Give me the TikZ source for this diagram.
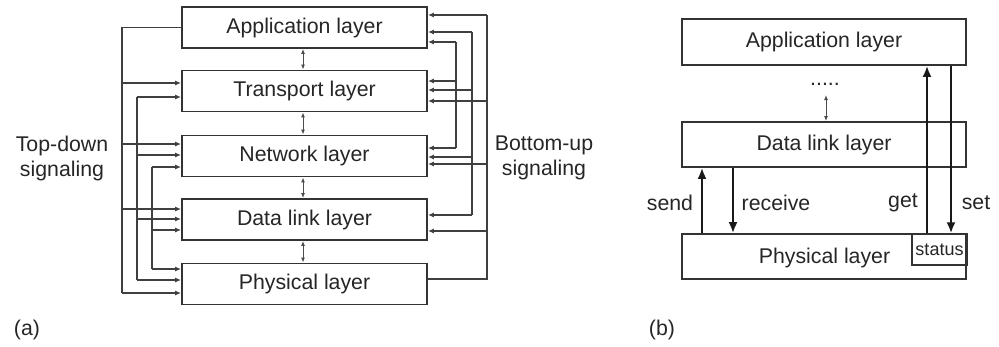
\documentclass[tikz,border=0pt]{standalone}
\usepackage{fontspec}
\setmainfont{Liberation Sans}
\usetikzlibrary{arrows.meta}
\begin{document}
\begin{tikzpicture}[x=1pt,y=-1pt,
  every node/.style={font=\fontsize{21.3}{25}\selectfont, text=black!85},
  box/.style={draw=black!80, line width=1.8pt, fill=white, inner sep=0pt},
  sig/.style={draw=black!75, line width=1.3pt},
  sigarr/.style={sig, -{Latex[length=6pt,width=5pt]}},
  dbl/.style={draw=black!70, line width=1pt, {Latex[length=5pt,width=4pt]}-{Latex[length=5pt,width=4pt]}},
  big/.style={draw=black!90, line width=2pt, -{Latex[length=11pt,width=9pt]}},
  lbl/.style={align=center, inner sep=0pt}
]
\useasboundingbox (0,0) rectangle (999,346);
% ---------- (a) ----------
\node[box, minimum width=245pt, minimum height=41pt] (app) at (304.5,27.5) {Application layer};
\node[box, minimum width=245pt, minimum height=41pt] (tr)  at (304.5,91) {Transport layer};
\node[box, minimum width=245pt, minimum height=41pt] (net) at (304.5,156) {Network layer};
\node[box, minimum width=245pt, minimum height=41pt] (dl)  at (304.5,219.5) {Data link layer};
\node[box, minimum width=245pt, minimum height=41pt] (ph)  at (304.5,284) {Physical layer};

\draw[dbl] (app.south -| 303,0) -- (tr.north -| 303,0);
\draw[dbl] (tr.south -| 303,0) -- (net.north -| 303,0);
\draw[dbl] (net.south -| 303,0) -- (dl.north -| 303,0);
\draw[dbl] (dl.south -| 303,0) -- (ph.north -| 303,0);

% top-down signaling (left)
\coordinate (l1t) at (122,27.5);
\coordinate (l1b) at (122,293);
\draw[sig] (app.west) -- (l1t) -- (l1b);
\draw[sigarr] (122,83) -- (tr.west |- 0,83);
\draw[sigarr] (122,144) -- (net.west |- 0,144);
\draw[sigarr] (122,209) -- (dl.west |- 0,209);
\draw[sigarr] (l1b) -- (ph.west |- 0,293);

\coordinate (l2t) at (137,97);
\coordinate (l2b) at (137,280);
\draw[sig] (l2t) -- (l2b);
\draw[sigarr] (l2t) -- (tr.west |- 0,97);
\draw[sigarr] (137,155) -- (net.west |- 0,155);
\draw[sigarr] (137,219) -- (dl.west |- 0,219);
\draw[sigarr] (l2b) -- (ph.west |- 0,280);

\coordinate (l3t) at (152,167);
\coordinate (l3b) at (152,269);
\draw[sig] (l3t) -- (l3b);
\draw[sigarr] (l3t) -- (net.west |- 0,167);
\draw[sigarr] (152,230) -- (dl.west |- 0,230);
\draw[sigarr] (l3b) -- (ph.west |- 0,269);

% bottom-up signaling (right)
\coordinate (r1t) at (456,42);
\coordinate (r1b) at (456,148);
\draw[sig] (r1t) -- (r1b);
\draw[sigarr] (r1b) -- (net.east |- 0,148);
\draw[sigarr] (456,81) -- (tr.east |- 0,81);
\draw[sigarr] (r1t) -- (app.east |- 0,42);

\coordinate (r2t) at (472,32);
\coordinate (r2b) at (472,215);
\draw[sig] (r2t) -- (r2b);
\draw[sigarr] (r2b) -- (dl.east |- 0,215);
\draw[sigarr] (472,157) -- (net.east |- 0,157);
\draw[sigarr] (472,90) -- (tr.east |- 0,90);
\draw[sigarr] (r2t) -- (app.east |- 0,32);

\coordinate (r3t) at (487,15);
\coordinate (r3b) at (487,279);
\draw[sig] (ph.east |- 0,279) -- (r3b) -- (r3t);
\draw[sigarr] (487,231) -- (dl.east |- 0,231);
\draw[sigarr] (487,164) -- (net.east |- 0,164);
\draw[sigarr] (487,101) -- (tr.east |- 0,101);
\draw[sigarr] (r3t) -- (app.east |- 0,15);

\node[lbl] (td) at (62,158) {Top-down\\signaling};
\node[lbl] (bu) at (544,158) {Bottom-up\\signaling};
\node[inner sep=0pt] (la) at (27,330) {(a)};

% ---------- (b) ----------
\node[box, minimum width=284pt, minimum height=46pt] (bapp) at (824,42) {Application layer};
\node[box, minimum width=284pt, minimum height=45pt] (bdl)  at (824,144.5) {Data link layer};
\node[box, minimum width=284pt, minimum height=45pt] (bph)  at (824,256.5) {};
\node[inner sep=0pt] (bphl) at (824.5,258) {Physical layer};
\node[draw=black!80, line width=1.5pt, minimum width=55pt, minimum height=31pt, inner sep=0pt,
      font=\fontsize{18}{20}\selectfont] (st) at (939.5,249.5) {status};

\node[inner sep=0pt] (dots) at (825,84) {.....};
\draw[dbl] (826,95) -- (bdl.north -| 826,0);

\draw[big] (bph.north -| 702,0) -- (bdl.south -| 702,0);
\draw[big] (bdl.south -| 733,0) -- (bph.north -| 733,0);
\draw[big] (bph.north -| 927,0) -- (bapp.south -| 927,0);
\draw[big] (bapp.south -| 951,0) -- (st.north -| 951,0);

\node[inner sep=0pt] (send) at (670,203) {send};
\node[inner sep=0pt] (recv) at (776,203) {receive};
\node[inner sep=0pt] (get)  at (903,203) {get};
\node[inner sep=0pt] (set)  at (976,203) {set};
\node[inner sep=0pt] (lb) at (662,330) {(b)};
\end{tikzpicture}
\end{document}
